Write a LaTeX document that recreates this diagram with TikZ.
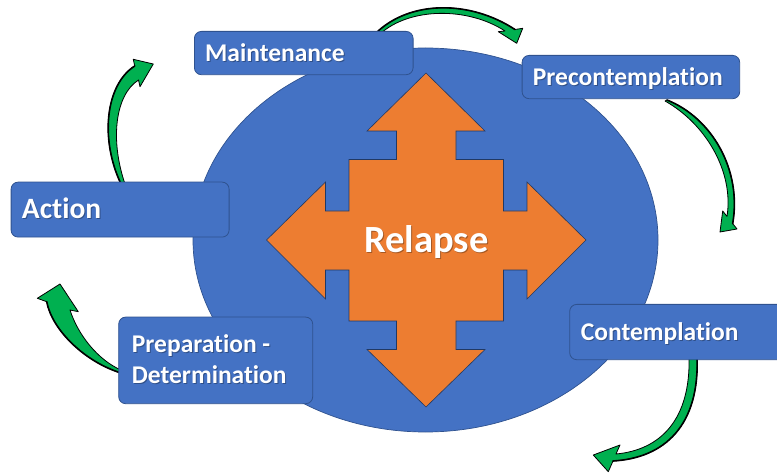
\documentclass[tikz,border=0pt]{standalone}
\usepackage{fontspec}
\setmainfont{Carlito}[Ligatures=NoCommon]
\definecolor{stageblue}{HTML}{4472C4}
\definecolor{stageedge}{HTML}{2F528F}
\definecolor{relapseorange}{HTML}{ED7D31}
\definecolor{arrowgreen}{HTML}{00B050}
\newcommand{\boxlabel}[5]{%
  \node[lbltxt, font=#4, text=black, opacity=0.3] (#1-sh) at (#2+1,#3+1) {#5};
  \node[lbltxt, font=#4] (#1) at (#2,#3) {#5};}
\begin{document}
\begin{tikzpicture}[x=1pt,y=-1pt,
  stagebox/.style={fill=stageblue, draw=stageedge, line width=0.8, rounded corners=7},
  lbltxt/.style={text=white, inner sep=0, anchor=base west, align=left},
  garrow/.style={fill=arrowgreen, draw=black, line width=0.8, line join=round},
  rim/.style={draw=black, line width=1.6, line cap=round},
]
\useasboundingbox (0,0) rectangle (777,473);
\clip (0,0) rectangle (777,473);

% central circle of the cycle
\fill[stageblue, draw=stageedge, line width=0.7] (425.5,240) ellipse [x radius=232.5, y radius=192];

% four-way relapse arrow
\draw[fill=relapseorange, draw=stageedge!70!black, line width=0.6, line join=miter]
  (426,73) -- (485,131) -- (456,131) -- (456,159.5) -- (503.5,159.5) -- (503.5,211)
  -- (527,211) -- (527,182) -- (586,240) -- (527,299) -- (527,270) -- (503.5,270)
  -- (503.5,321) -- (456,321) -- (456,349.5) -- (485,349.5) -- (426,407)
  -- (367,349.5) -- (396.5,349.5) -- (396.5,321) -- (349,321) -- (349,270)
  -- (325.5,270) -- (325.5,299) -- (266.5,240) -- (325.5,182) -- (325.5,211)
  -- (349,211) -- (349,159.5) -- (396.5,159.5) -- (396.5,131) -- (367,131) -- cycle;
\node[font=\fontsize{38.5}{40}\selectfont\bfseries, text=black, opacity=0.3, inner sep=0, anchor=base] (relapse-sh) at (427.5,254) {Relapse};
\node[font=\fontsize{38.5}{40}\selectfont\bfseries, text=white, inner sep=0, anchor=base] (relapse) at (426.5,253) {Relapse};

% curved green arrows between the stages
\draw[garrow] (376,33) .. controls (410,0) and (470,0) .. (515,29.5) -- (522.7,28.3)
  -- (516.7,43.3) -- (498.3,31.7) -- (505,31) .. controls (468,7) and (410,7) .. (380,34) -- cycle;
\draw[rim] (376,33) .. controls (410,0) and (470,0) .. (515,29.5);

\draw[garrow] (667,100) .. controls (712,118) and (742,170) .. (732.7,223.6) -- (737,229)
  -- (720,232) -- (722.7,211) -- (727,216.4) .. controls (734,172) and (706,124) .. (665,101) -- cycle;
\draw[rim] (667,100) .. controls (712,118) and (742,170) .. (732.7,223.6);

\draw[garrow] (697,356) .. controls (700,425) and (665,458) .. (613,461) -- (608.3,471.7)
  -- (593.3,455) -- (620,445) -- (616,454) .. controls (660,450) and (691,420) .. (689,356) -- cycle;
\draw[rim] (697,356) .. controls (700,425) and (665,458) .. (613,461);

\draw[garrow] (121,370) .. controls (98,360) and (78,335) .. (70,310) -- (78.3,311.7)
  -- (60,284) -- (37.3,298.3) -- (46.7,301.7) .. controls (52,330) and (85,362) .. (121,373) -- cycle;
\draw[rim] (46.7,301.7) .. controls (52,330) and (85,362) .. (121,373);

\draw[garrow] (121,184) .. controls (100,140) and (105,85) .. (134.7,66) -- (133.3,59.3)
  -- (153.3,64) -- (140,86.7) -- (138.5,80) .. controls (115,95) and (110,140) .. (125,184) -- cycle;
\draw[rim] (121,184) .. controls (100,140) and (105,85) .. (134.7,66);

% stage boxes
\node[stagebox, anchor=north west, minimum width=218.7, minimum height=43.3] (maint-box) at (194,31) {};
\node[stagebox, anchor=north west, minimum width=217.6, minimum height=43.3] (precon-box) at (521.7,55) {};
\node[stagebox, anchor=north west, minimum width=218, minimum height=55] (action-box) at (10.7,181.7) {};
\node[stagebox, anchor=north west, minimum width=194, minimum height=86.6] (prep-box) at (118.3,316.7) {};
\node[stagebox, anchor=north west, minimum width=230, minimum height=55.3] (contem-box) at (569.3,304) {};

% stage labels (base anchor of the two-line label sits on its last line)
\boxlabel{maint}{205}{61.7}{\fontsize{25.5}{30.6}\selectfont\bfseries}{Maintenance}
\boxlabel{precon}{532.7}{85.7}{\fontsize{25.5}{30.6}\selectfont\bfseries}{Precontemplation}
\boxlabel{action}{21.7}{219}{\fontsize{29.5}{34}\selectfont\bfseries}{Action}
\boxlabel{prep}{131.7}{383.3}{\fontsize{25.5}{30.6}\selectfont\bfseries}{Preparation -\\Determination}
\boxlabel{contem}{580.7}{340.7}{\fontsize{25.5}{30.6}\selectfont\bfseries}{Contemplation}
\end{tikzpicture}
\end{document}
